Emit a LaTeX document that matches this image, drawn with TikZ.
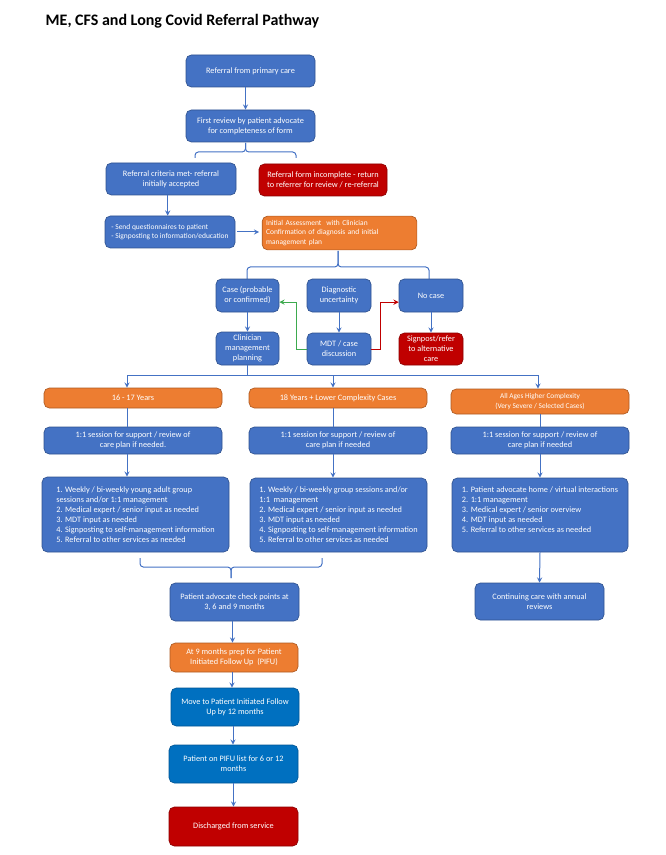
\documentclass[tikz,border=0pt]{standalone}
\usepackage{fontspec}
\setmainfont{Carlito}
\usepackage{tikz}
\usetikzlibrary{arrows}
\definecolor{bleu}{HTML}{4472C4}
\definecolor{bleuBord}{HTML}{2F528F}
\definecolor{bleuFonce}{HTML}{0070C0}
\definecolor{bleuFonceBord}{HTML}{005494}
\definecolor{orangeB}{HTML}{ED7D31}
\definecolor{orangeBord}{HTML}{AE5A21}
\definecolor{rouge}{HTML}{C00000}
\definecolor{rougeBord}{HTML}{8C0000}
\definecolor{vert}{HTML}{3DAA4E}
\tikzstyle{boite} = [rounded corners=4pt,line width=0.5pt,text=white,align=center,inner sep=1.5pt,font=\fontsize{6.2}{7.5}\selectfont]
\tikzstyle{bleue} = [boite,fill=bleu,draw=bleuBord]
\tikzstyle{foncee} = [boite,fill=bleuFonce,draw=bleuFonceBord]
\tikzstyle{orangee} = [boite,fill=orangeB,draw=orangeBord]
\tikzstyle{rougee} = [boite,fill=rouge,draw=rougeBord]
\tikzstyle{fleche} = [->,>=stealth,draw=bleu,line width=0.75pt]
\tikzstyle{ligne} = [draw=bleu,line width=0.75pt]
\tikzstyle{accolade} = [draw=bleu,line width=0.75pt,rounded corners=2.5pt]

\begin{document}
\begin{tikzpicture}[x=0.75pt,y=-0.75pt]
	\useasboundingbox (0,0) rectangle (665,855);

	\node[anchor=west,font=\fontsize{12}{14}\selectfont\bfseries] (titre) at (41,21) {ME, CFS and Long Covid Referral Pathway};

	\node[bleue,minimum width=96.75pt,minimum height=24pt] (primaire) at (250.5,71) {Referral from primary care};
	\node[bleue,minimum width=96.75pt,minimum height=24pt] (revue) at (250.5,126) {First review by patient advocate\\for completeness of form};
	\draw[fleche] ([xshift=-3.75pt]primaire.south) -- ([xshift=-3.75pt]revue.north);

	\node[bleue,minimum width=97.5pt,minimum height=24pt] (acceptee) at (171,179) {Referral criteria met- referral\\initially accepted};
	\node[rougee,minimum width=96pt,minimum height=24pt] (incomplet) at (323,180) {Referral form incomplete - return\\to referrer for review / re-referral};
	\coordinate (acc1g) at (195,158);
	\coordinate (acc1d) at (296,158);
	\coordinate (acc1m) at (245.5,152);
	\coordinate (acc1p) at (245.5,143);
	\draw[accolade] (acc1g) |- (acc1m) -- (acc1p);
	\draw[accolade] (acc1d) |- (acc1m) -- (acc1p);

	\node[bleue,align=left,minimum width=97.5pt,minimum height=24pt,font=\fontsize{5.6}{7}\selectfont] (questionnaires) at (170,232) {- Send questionnaires to patient\\- Signposting to information/education};
	\node[orangee,align=left,text width=110pt,inner sep=3pt,minimum height=24pt,font=\fontsize{5.6}{7.2}\selectfont] (evaluation) at (339.5,233) {Initial Assessment\ \ with Clinician\\Confirmation of diagnosis and initial\\management plan};
	\draw[fleche] ([xshift=-2.5pt]acceptee.south) -- ([xshift=-2.5pt]acceptee.south |- questionnaires.north);
	\draw[fleche,shorten <=1.5pt,shorten >=2pt] (questionnaires.east) -- (questionnaires.east -| evaluation.west);

	\coordinate (acc2g) at (247,279);
	\coordinate (acc2d) at (429,279);
	\coordinate (acc2m) at (338,267);
	\coordinate (acc2p) at (338,251);
	\draw[accolade] (acc2g) |- (acc2m) -- (acc2p);
	\draw[accolade] (acc2d) |- (acc2m) -- (acc2p);

	\node[bleue,minimum width=47.25pt,minimum height=24.75pt] (cas) at (247.5,295.5) {Case (probable\\or confirmed)};
	\node[bleue,minimum width=48pt,minimum height=24.75pt] (incertitude) at (339,295.5) {Diagnostic\\uncertainty};
	\node[bleue,minimum width=48pt,minimum height=24.75pt] (pasdecas) at (431,295.5) {No case};
	\node[bleue,minimum width=47.25pt,minimum height=24.75pt] (clinicien) at (247.5,348.5) {Clinician\\management\\planning};
	\node[bleue,minimum width=48pt,minimum height=24pt] (mdt) at (339,349) {MDT / case\\discussion};
	\node[rougee,minimum width=48pt,minimum height=24pt] (orientation) at (431,349) {Signpost/refer\\to alternative\\care};
	\draw[fleche] (cas) -- (clinicien);
	\draw[fleche] (incertitude) -- (mdt);
	\draw[fleche] (pasdecas) -- (orientation);
	\draw[fleche,draw=vert] (mdt.west) -- ++(-10,0) |- ([yshift=-5pt]cas.east);
	\draw[fleche,draw=rouge] (mdt.east) -- ++(9,0) |- ([yshift=-5pt]pasdecas.west);

	\coordinate (busG) at (127,375);
	\coordinate (busM) at (333,375);
	\coordinate (busD) at (538,375);
	\draw[ligne] (clinicien.south) -- (clinicien.south |- busG);
	\draw[ligne] (busG) -- (busD);

	\node[orangee,minimum width=133.5pt,minimum height=15pt] (jeunes) at (133,398) {16 - 17 Years};
	\node[orangee,minimum width=133.5pt,minimum height=15pt] (adultes) at (338,398) {18 Years + Lower Complexity Cases};
	\node[orangee,minimum width=133.5pt,minimum height=18.75pt,font=\fontsize{5.5}{7}\selectfont] (severes) at (540,401.5) {All Ages Higher Complexity\\(Very Severe / Selected Cases)};
	\draw[fleche] (busG) -- (busG |- jeunes.north);
	\draw[fleche] (busM) -- (busM |- adultes.north);
	\draw[fleche] (busD) -- (busD |- severes.north);

	\node[bleue,minimum width=133.5pt,minimum height=20.25pt] (seance1) at (133,440.5) {1:1 session for support / review of\\care plan if needed.};
	\node[bleue,minimum width=133.5pt,minimum height=20.25pt] (seance2) at (338,440.5) {1:1 session for support / review of\\care plan if needed};
	\node[bleue,minimum width=133.5pt,minimum height=20.25pt] (seance3) at (540,440.5) {1:1 session for support / review of\\care plan if needed};
	\draw[ligne] (busG |- jeunes.south) -- (busG |- seance1.north);
	\draw[ligne] (busM |- adultes.south) -- (busM |- seance2.north);
	\draw[ligne] (severes.south) -- (seance3.north);

	\node[bleue,align=left,minimum width=140.25pt,minimum height=56.25pt] (liste1) at (135.5,514.5) {1. Weekly / bi-weekly young adult group\\sessions and/or 1:1 management\\2. Medical expert / senior input as needed\\3. MDT input as needed\\4. Signposting to self-management information\\5. Referral to other services as needed};
	\node[bleue,align=left,minimum width=132.75pt,minimum height=55.5pt] (liste2) at (338.5,515) {1. Weekly / bi-weekly group sessions and/or\\1:1\ \ management\\2. Medical expert / senior input as needed\\3. MDT input as needed\\4. Signposting to self-management information\\5. Referral to other services as needed};
	\node[bleue,align=left,minimum width=132pt,minimum height=55.5pt] (liste3) at (540,515) {1. Patient advocate home / virtual interactions\\2. 1:1 management\\3. Medical expert / senior overview\\4. MDT input as needed\\5. Referral to other services as needed\\[1pt]};
	\draw[fleche] (busG |- seance1.south) -- (busG |- liste1.north);
	\draw[fleche] (busM |- seance2.south) -- (busM |- liste2.north);
	\draw[fleche] (seance3.south) -- (liste3.north);

	\coordinate (acc3g) at (140,558);
	\coordinate (acc3d) at (322,558);
	\coordinate (acc3m) at (231,567);
	\coordinate (acc3p) at (231,578);
	\draw[accolade] (acc3g) |- (acc3m) -- (acc3p);
	\draw[accolade] (acc3d) |- (acc3m) -- (acc3p);

	\node[bleue,minimum width=96.75pt,minimum height=28.5pt] (suivi) at (234.5,602) {Patient advocate check points at\\3, 6 and 9 months};
	\node[orangee,minimum width=96pt,minimum height=21.75pt] (prep) at (234,657.5) {At 9 months prep for Patient\\Initiated Follow Up\ \ (PIFU)};
	\node[foncee,minimum width=96pt,minimum height=28.5pt] (pifu) at (235,707) {Move to Patient Initiated Follow\\Up by 12 months};
	\node[foncee,minimum width=96.75pt,minimum height=28.5pt] (listepifu) at (233.5,764) {Patient on PIFU list for 6 or 12\\months};
	\node[rougee,minimum width=96.75pt,minimum height=29.25pt] (sortie) at (233.5,826.5) {Discharged from service};
	\draw[fleche] ([xshift=-1.5pt]suivi.south) -- ([xshift=-1.5pt]suivi.south |- prep.north);
	\draw[fleche] ([xshift=-1.5pt]prep.south) -- ([xshift=-1.5pt]prep.south |- pifu.north);
	\draw[fleche] ([xshift=-1.5pt]pifu.south) -- ([xshift=-1.5pt]pifu.south |- listepifu.north);
	\draw[fleche] (listepifu) -- (sortie);

	\node[bleue,minimum width=96.75pt,minimum height=27.75pt] (annuel) at (539.5,601.5) {Continuing care with annual\\reviews};
	\draw[fleche] (liste3.south) -- (annuel.north);

\end{tikzpicture}
\end{document}
